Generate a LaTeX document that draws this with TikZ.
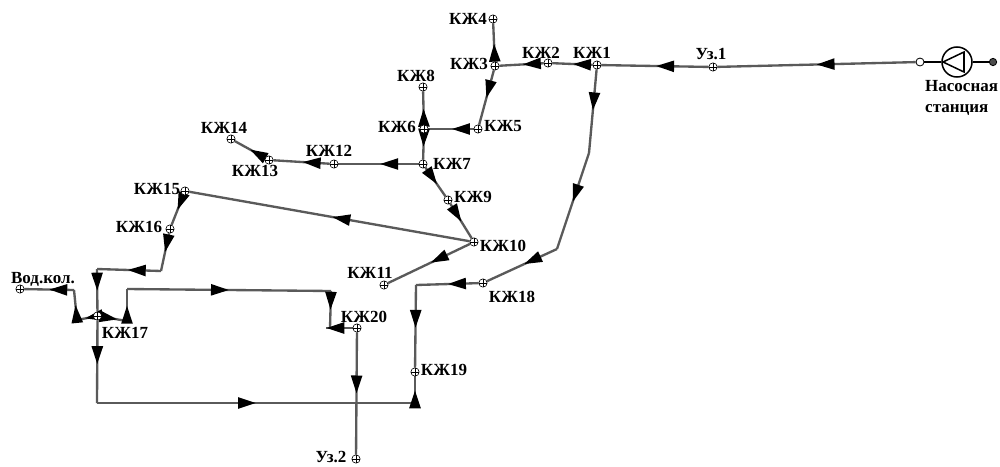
\documentclass[tikz,border=0pt]{standalone}
\usepackage{fontspec}
\setmainfont{Liberation Serif}
\usetikzlibrary{arrows.meta,decorations.markings,backgrounds}
\definecolor{pipegray}{HTML}{5A5A5A}
\tikzset{
  knot/.style={draw=black,fill=white,line width=0.5pt,circle,
               inner sep=0pt,minimum size=0.25cm,
               path picture={\draw[line width=0.5pt] (path picture bounding box.north)--(path picture bounding box.south);
                             \draw[line width=0.5pt] (path picture bounding box.west)--(path picture bounding box.east);}},
  tag/.style={font=\fontsize{14.5}{14.5}\selectfont\bfseries,inner sep=0pt,text=black},
  pipe/.style={draw=pipegray,line width=2pt},
  tipat/.style={postaction={decorate,decoration={markings,
                mark=at position #1 with {\arrow{Triangle[length=5.4mm,width=3.3mm,color=black,fill=black]}}}}},
  stub/.style={draw=black,line width=1.3pt}
}
\begin{document}
\begin{tikzpicture}[x=0.03cm,y=-0.03cm]
      \useasboundingbox (0,0) rectangle (1000,466);
      % junctions
      \node[knot] (u1) at (713,67) {};
      \node[knot] (k1) at (597,65) {};
      \node[knot] (k2) at (548,63) {};
      \node[knot] (k3) at (495,66) {};
      \node[knot] (k4) at (493,19) {};
      \node[knot] (k5) at (478,129) {};
      \node[knot] (k6) at (424,129) {};
      \node[knot] (k7) at (423,164) {};
      \node[knot] (k8) at (423,87) {};
      \node[knot] (k9) at (448,200) {};
      \node[knot] (k10) at (474,242) {};
      \node[knot] (k11) at (384,285) {};
      \node[knot] (k12) at (334,164) {};
      \node[knot] (k13) at (269,160) {};
      \node[knot] (k14) at (231,139) {};
      \node[knot] (k15) at (185,191) {};
      \node[knot] (k16) at (170,229) {};
      \node[knot] (k17) at (97.5,316) {};
      \node[knot] (k18) at (483,283) {};
      \node[knot] (k19) at (415,372) {};
      \node[knot] (k20) at (357,328) {};
      \node[knot] (u2) at (356,459) {};
      \node[knot] (vod) at (20,289) {};
      % bends
      \coordinate (b1) at (589,153);
      \coordinate (b2) at (557,249);
      \coordinate (b3) at (416,285);
      \coordinate (b4) at (161,271);
      \coordinate (b5) at (97,269);
      \coordinate (b6) at (97,403);
      \coordinate (b7) at (415,403);
      \coordinate (b8) at (127,321);
      \coordinate (b9) at (127,289);
      \coordinate (b10) at (331,291);
      \coordinate (b11) at (330,328);
      \coordinate (b12) at (326,328);
      \coordinate (b13) at (77,320);
      \coordinate (b14) at (74,290);
      % pump
      \node[draw=black,fill=white,line width=0.7pt,circle,inner sep=0pt,minimum size=0.24cm] (open) at (920,62) {};
      \node[draw=black,line width=1.3pt,circle,inner sep=0pt,minimum size=0.9cm] (pump) at (957,62) {};
      \node[draw=black,fill=black!70,line width=0.7pt,circle,inner sep=0pt,minimum size=0.22cm] (end) at (993,62) {};
      \coordinate (t1) at (943,62);
      \coordinate (t2) at (964,52);
      \coordinate (t3) at (964,72);
      \draw[stub] (t1)--(t2)--(t3)--cycle;
      \draw[stub] (open)--(pump);
      \draw[stub] (pump)--(end);
      % pipes
      \begin{scope}[on background layer]
      \draw[pipe,tipat=.5] (open)--(u1);
      \draw[pipe,tipat=.49] (u1)--(k1);
      \draw[pipe,tipat=.49] (k1)--(k2);
      \draw[pipe,tipat=.47] (k2)--(k3);
      \draw[pipe,tipat=.47] (k3)--(k4);
      \draw[pipe,tipat=.51] (k3)--(k5);
      \draw[pipe,tipat=.48] (k5)--(k6);
      \draw[pipe,tipat=.48] (k6)--(k8);
      \draw[pipe,tipat=.51] (k6)--(k7);
      \draw[pipe,tipat=.48] (k7)--(k12);
      \draw[pipe,tipat=.48] (k12)--(k13);
      \draw[pipe,tipat=.5] (k13)--(k14);
      \draw[pipe,tipat=.58] (k7)--(k9);
      \draw[pipe,tipat=.52] (k9)--(k10);
      \draw[pipe,tipat=.49] (k10)--(k15);
      \draw[pipe,tipat=.48] (k10)--(k11);
      \draw[pipe,tipat=.5] (k15)--(k16);
      \draw[pipe,tipat=.5] (k16)--(b4);
      \draw[pipe,tipat=.52] (b4)--(b5);
      \draw[pipe,tipat=.51] (b5)--(k17);
      \draw[pipe,tipat=.53] (k17)--(b6);
      \draw[pipe,tipat=.5] (b6)--(b7);
      \draw[pipe,tipat=.48] (b7)--(k19);
      \draw[pipe,tipat=.49] (k1)--(b1);
      \draw[pipe,tipat=.51] (b1)--(b2);
      \draw[pipe,tipat=.47] (b2)--(k18);
      \draw[pipe,tipat=.49] (k18)--(b3);
      \draw[pipe,tipat=.52] (b3)--(k19);
      \draw[pipe,tipat=.62] (k17)--(b8);
      \draw[pipe,tipat=.48] (b8)--(b9);
      \draw[pipe,tipat=.5] (b9)--(b10);
      \draw[pipe,tipat=.51] (b10)--(b11);
      \draw[pipe,tipat=.99] (k20)--(b12);
      \draw[pipe,tipat=.5] (k17)--(b13);
      \draw[pipe,tipat=.5] (b13)--(b14);
      \draw[pipe,tipat=.5] (b14)--(vod);
      \draw[pipe,tipat=.5] (k20)--(u2);
      \end{scope}
      % labels
      \node[tag] (l1) at (592,53) {КЖ1};
      \node[tag] (l2) at (541,53) {КЖ2};
      \node[tag] (l3) at (469,64) {КЖ3};
      \node[tag] (l4) at (468,19) {КЖ4};
      \node[tag] (l5) at (503,126) {КЖ5};
      \node[tag] (l6) at (397,127) {КЖ6};
      \node[tag] (l7) at (452,164) {КЖ7};
      \node[tag] (l8) at (416,76) {КЖ8};
      \node[tag] (l9) at (473,197) {КЖ9};
      \node[tag] (l10) at (503,246) {КЖ10};
      \node[tag] (l11) at (370,273) {КЖ11};
      \node[tag] (l12) at (329,151) {КЖ12};
      \node[tag] (l13) at (255,171) {КЖ13};
      \node[tag] (l14) at (224,128) {КЖ14};
      \node[tag] (l15) at (157,189) {КЖ15};
      \node[tag] (l16) at (139,227) {КЖ16};
      \node[tag] (l17) at (125,333) {КЖ17};
      \node[tag] (l18) at (512,297) {КЖ18};
      \node[tag] (l19) at (444,370) {КЖ19};
      \node[tag] (l20) at (364,317) {КЖ20};
      \node[tag] (lu1) at (711,54) {Уз.1};
      \node[tag] (lu2) at (331,457) {Уз.2};
      \node[tag] (lvod) at (43,279) {Вод.кол.};
      \node[tag,align=left,anchor=north west,font=\fontsize{14.5}{18}\selectfont\bfseries] (lpump) at (925,80) {Насосная\\станция};
    \end{tikzpicture}
\end{document}
